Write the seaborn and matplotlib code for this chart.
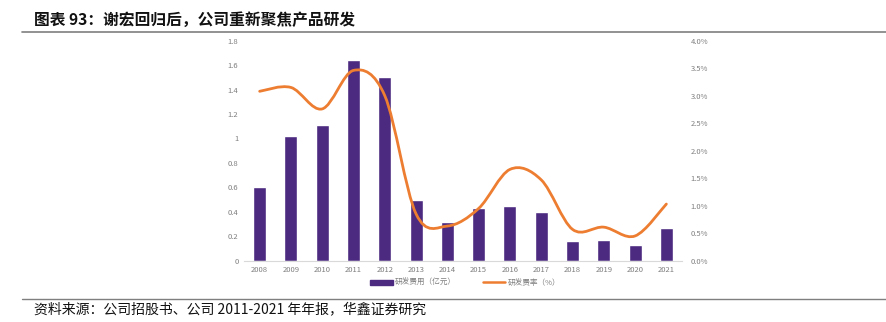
import matplotlib
matplotlib.use("Agg")
import matplotlib.pyplot as plt
import seaborn as sns
import pandas as pd
import numpy as np
from matplotlib.path import Path
from matplotlib.patches import PathPatch
from matplotlib.lines import Line2D
from matplotlib.patches import Patch

years = ["2008", "2009", "2010", "2011", "2012", "2013", "2014", "2015",
         "2016", "2017", "2018", "2019", "2020", "2021"]
rd_expense = [0.60, 1.02, 1.11, 1.64, 1.50, 0.50, 0.32, 0.43, 0.45, 0.40,
              0.16, 0.17, 0.13, 0.265]
rd_rate = [3.08, 3.15, 2.76, 3.46, 3.00, 0.85, 0.63, 0.95, 1.66, 1.47,
           0.57, 0.61, 0.45, 1.03]
left_ticks = [0, 0.2, 0.4, 0.6, 0.8, 1.0, 1.2, 1.4, 1.6, 1.8]
left_labels = ["0", "0.2", "0.4", "0.6", "0.8", "1", "1.2", "1.4", "1.6", "1.8"]
right_ticks = [0, 0.5, 1.0, 1.5, 2.0, 2.5, 3.0, 3.5, 4.0]
right_labels = ["0.0%", "0.5%", "1.0%", "1.5%", "2.0%", "2.5%", "3.0%", "3.5%", "4.0%"]

sns.set_theme(style="white")
plt.rcParams['font.family'] = ['Noto Sans CJK SC', 'DejaVu Sans']

PURPLE = "#4b2a80"
ORANGE = "#ed7d31"
GRAY = "#7f7f7f"

fig = plt.figure(figsize=(8.87, 3.22), dpi=100)
ax = fig.add_axes([244 / 887, 1 - 260.7 / 322, 438 / 887, 220 / 322])

df = pd.DataFrame({"year": years, "expense": rd_expense})
sns.barplot(data=df, x="year", y="expense", color=PURPLE, saturation=1,
            width=0.42, ax=ax)
ax.set_xlim(-0.5, len(years) - 0.5)
ax.set_ylim(0, 1.8)
ax.set_yticks(left_ticks)
ax.set_yticklabels(left_labels)
ax.set_xlabel("")
ax.set_ylabel("")
for s in ["top", "left", "right"]:
    ax.spines[s].set_visible(False)
ax.spines["bottom"].set_color("#d9d9d9")
ax.spines["bottom"].set_linewidth(0.8)
ax.tick_params(axis="both", length=0, labelsize=5.5, colors=GRAY, pad=4)

ax2 = ax.twinx()
ax2.set_ylim(0, 4.0)
ax2.set_yticks(right_ticks)
ax2.set_yticklabels(right_labels)
for s in ["top", "left", "right", "bottom"]:
    ax2.spines[s].set_visible(False)
ax2.tick_params(axis="y", length=0, labelsize=5.5, colors=GRAY, pad=6)
ax2.grid(False)
ax.grid(False)

# smooth (Catmull-Rom -> Bezier) path through the data points
xs = np.arange(len(years), dtype=float)
ys = np.array(rd_rate, dtype=float)
pts = np.column_stack([xs, ys])
verts = [pts[0]]
codes = [Path.MOVETO]
n = len(pts)
for i in range(n - 1):
    p0 = pts[i - 1] if i > 0 else pts[i]
    p1 = pts[i]
    p2 = pts[i + 1]
    p3 = pts[i + 2] if i + 2 < n else pts[i + 1]
    c1 = p1 + (p2 - p0) / 6.0
    c2 = p2 - (p3 - p1) / 6.0
    verts += [c1, c2, p2]
    codes += [Path.CURVE4, Path.CURVE4, Path.CURVE4]
patch = PathPatch(Path(verts, codes), facecolor="none", edgecolor=ORANGE,
                  lw=2.0, capstyle="round", joinstyle="round")
ax2.add_patch(patch)

handles = [Patch(facecolor=PURPLE, edgecolor=PURPLE),
           Line2D([0], [0], color=ORANGE, lw=1.8)]
labels = ["研发费用（亿元）", "研发费率（%）"]
fig.legend(handles, labels, loc="center", bbox_to_anchor=(465 / 887, 1 - 283 / 322),
           ncol=2, frameon=False, fontsize=5.5, labelcolor=GRAY,
           handlelength=3.0, handleheight=0.6, columnspacing=3.5, handletextpad=0.3)

fig.text(34 / 887, 1 - 20 / 322, "图表 93：谢宏回归后，公司重新聚焦产品研发",
         fontsize=11.3, fontweight="bold", va="center", ha="left", color="#111111")
fig.add_artist(Line2D([22 / 887, 1.0], [1 - 32 / 322, 1 - 32 / 322],
                      color="#7f7f7f", lw=1.2, transform=fig.transFigure))
fig.add_artist(Line2D([22 / 887, 1.0], [1 - 299 / 322, 1 - 299 / 322],
                      color="#7f7f7f", lw=1.0, transform=fig.transFigure))
fig.text(34 / 887, 1 - 309 / 322, "资料来源：公司招股书、公司 2011-2021 年年报，华鑫证券研究",
         fontsize=10, va="center", ha="left", color="#111111")

fig.savefig("out.png", dpi=100)
